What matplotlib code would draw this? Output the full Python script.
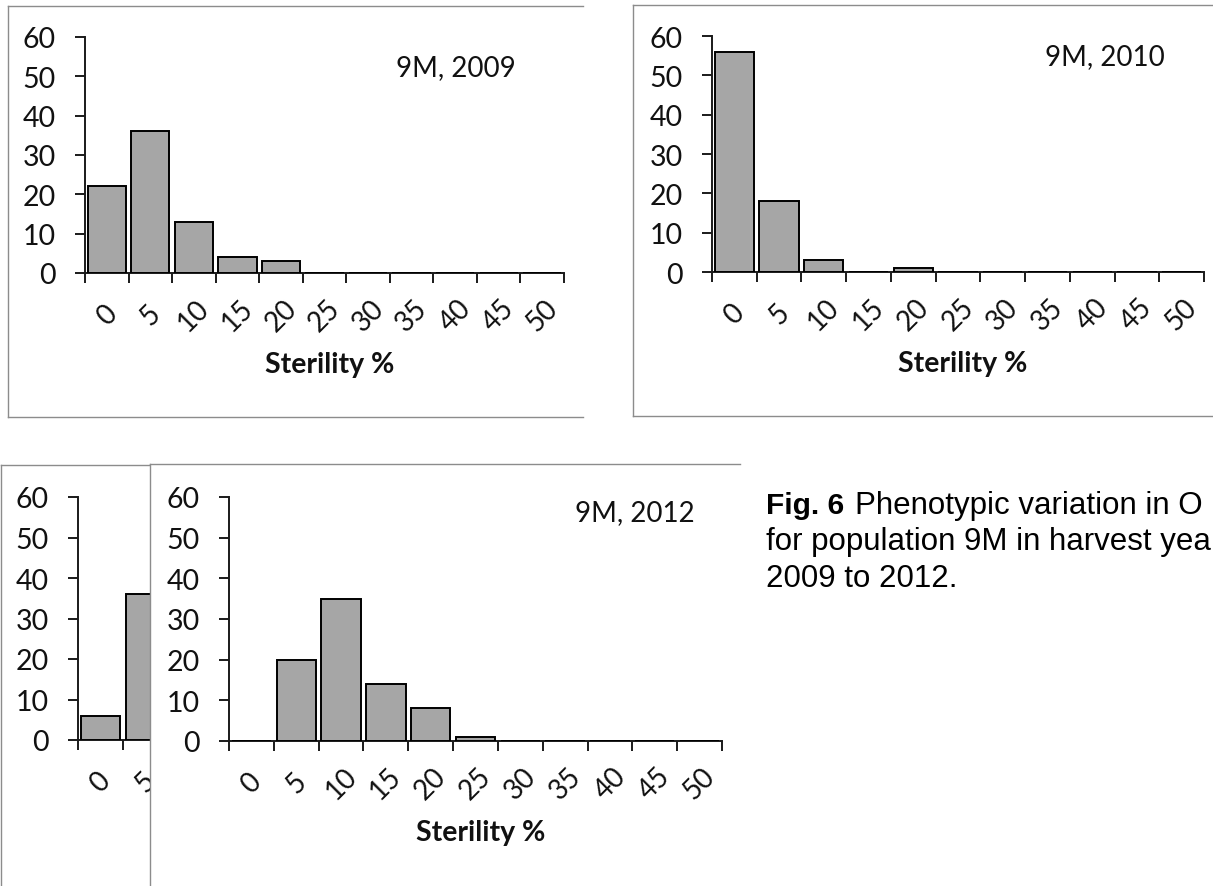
import numpy as np
import matplotlib
matplotlib.use('Agg')
import matplotlib.pyplot as plt

plt.rcParams['font.family'] = ['Lato', 'DejaVu Sans']

# data
categories = ['0', '5', '10', '15', '20', '25', '30', '35', '40', '45', '50']
sterility_2009 = [22, 36, 13, 4, 3, 0, 0, 0, 0, 0, 0]
sterility_2010 = [56, 18, 3, 0, 1, 0, 0, 0, 0, 0, 0]
sterility_2011 = [6, 36]          # only the first two bars are visible, rest is covered
sterility_2012 = [0, 20, 35, 14, 8, 1, 0, 0, 0, 0, 0]
panel_labels = ['9M, 2009', '9M, 2010', '9M, 2011', '9M, 2012']
caption = ['Phenotypic variation in O',
           'for population 9M in harvest yea',
           '2009 to 2012.']

W, H = 1213, 887
BAR_COLOR = '#a6a6a6'
FRAME_COLOR = '#8c8c8c'
AX_COLOR = '#1a1a1a'
TXT = '#111111'


def rect(x0, y0, x1, y1):
    # pixel box (top-left origin) -> figure fraction
    return [x0 / W, 1 - y1 / H, (x1 - x0) / W, (y1 - y0) / H]


def frame(box):
    fa = fig.add_axes(rect(*box))
    fa.set_xticks([])
    fa.set_yticks([])
    fa.set_facecolor('white')
    for s in fa.spines.values():
        s.set_color(FRAME_COLOR)
        s.set_linewidth(1.0)
    fa.spines['right'].set_visible(False)
    return fa


def histo(box, vals, label, lab_pos):
    ax = fig.add_axes(rect(*box))
    ax.patch.set_visible(False)
    ax.bar(np.arange(len(vals)), vals, width=0.88, color=BAR_COLOR,
           edgecolor='black', linewidth=1.4, zorder=3)
    ax.set_xlim(-0.5, len(categories) - 0.5)
    ax.set_ylim(0, 60)
    ax.set_yticks(np.arange(0, 61, 10))
    ax.set_xticks(np.arange(-0.5, len(categories), 1))
    ax.set_xticklabels([])
    ax.set_xticks(np.arange(len(categories)), categories, minor=True,
                  rotation=45, ha='center', va='center')
    ax.tick_params(axis='x', which='major', length=7, width=1.4,
                   direction='out', color=AX_COLOR)
    ax.tick_params(axis='x', which='minor', length=0, pad=30,
                   labelsize=20, labelcolor=TXT)
    ax.tick_params(axis='y', length=7, width=1.4, pad=14, labelsize=20.5,
                   color=AX_COLOR, labelcolor=TXT)
    for side in ['top', 'right']:
        ax.spines[side].set_visible(False)
    for side in ['left', 'bottom']:
        ax.spines[side].set_linewidth(1.4)
        ax.spines[side].set_color(AX_COLOR)
    ax.annotate('Sterility %', xy=(0.5, 0), xycoords='axes fraction',
                xytext=(5, -91), textcoords='offset pixels', ha='center',
                va='center', fontsize=20.5, fontweight='bold', color=TXT)
    ax.text(lab_pos[0], lab_pos[1], label, transform=ax.transAxes,
            ha='center', va='center', fontsize=20, color=TXT)
    return ax


fig = plt.figure(figsize=(W / 100, H / 100), dpi=100)

frame((8, 7, 583, 418))
histo((85, 38, 564, 274), sterility_2009, panel_labels[0], (0.775, 0.873))

frame((633, 6, 1230, 417))
histo((712, 37, 1204, 273), sterility_2010, panel_labels[1], (0.798, 0.914))

frame((1, 466, 700, 900))
histo((78, 498, 571, 741), sterility_2011, panel_labels[2], (0.824, 0.937))

frame((150, 465, 740, 900))
histo((229, 498, 722, 742), sterility_2012, panel_labels[3], (0.824, 0.937))

# caption (the source page is cropped at the right edge)
cap_x = 766 / W
fig.text(cap_x, 1 - 514 / H, 'Fig. 6', fontsize=21.5, fontweight='bold',
         family='Liberation Sans', va='baseline')
fig.text(855 / W, 1 - 514 / H, caption[0],
         fontsize=22.5, family='Liberation Sans', va='baseline')
fig.text(cap_x, 1 - 550 / H, caption[1],
         fontsize=22.5, family='Liberation Sans', va='baseline')
fig.text(cap_x, 1 - 587 / H, caption[2],
         fontsize=22.5, family='Liberation Sans', va='baseline')

fig.savefig('out.png', dpi=100)
